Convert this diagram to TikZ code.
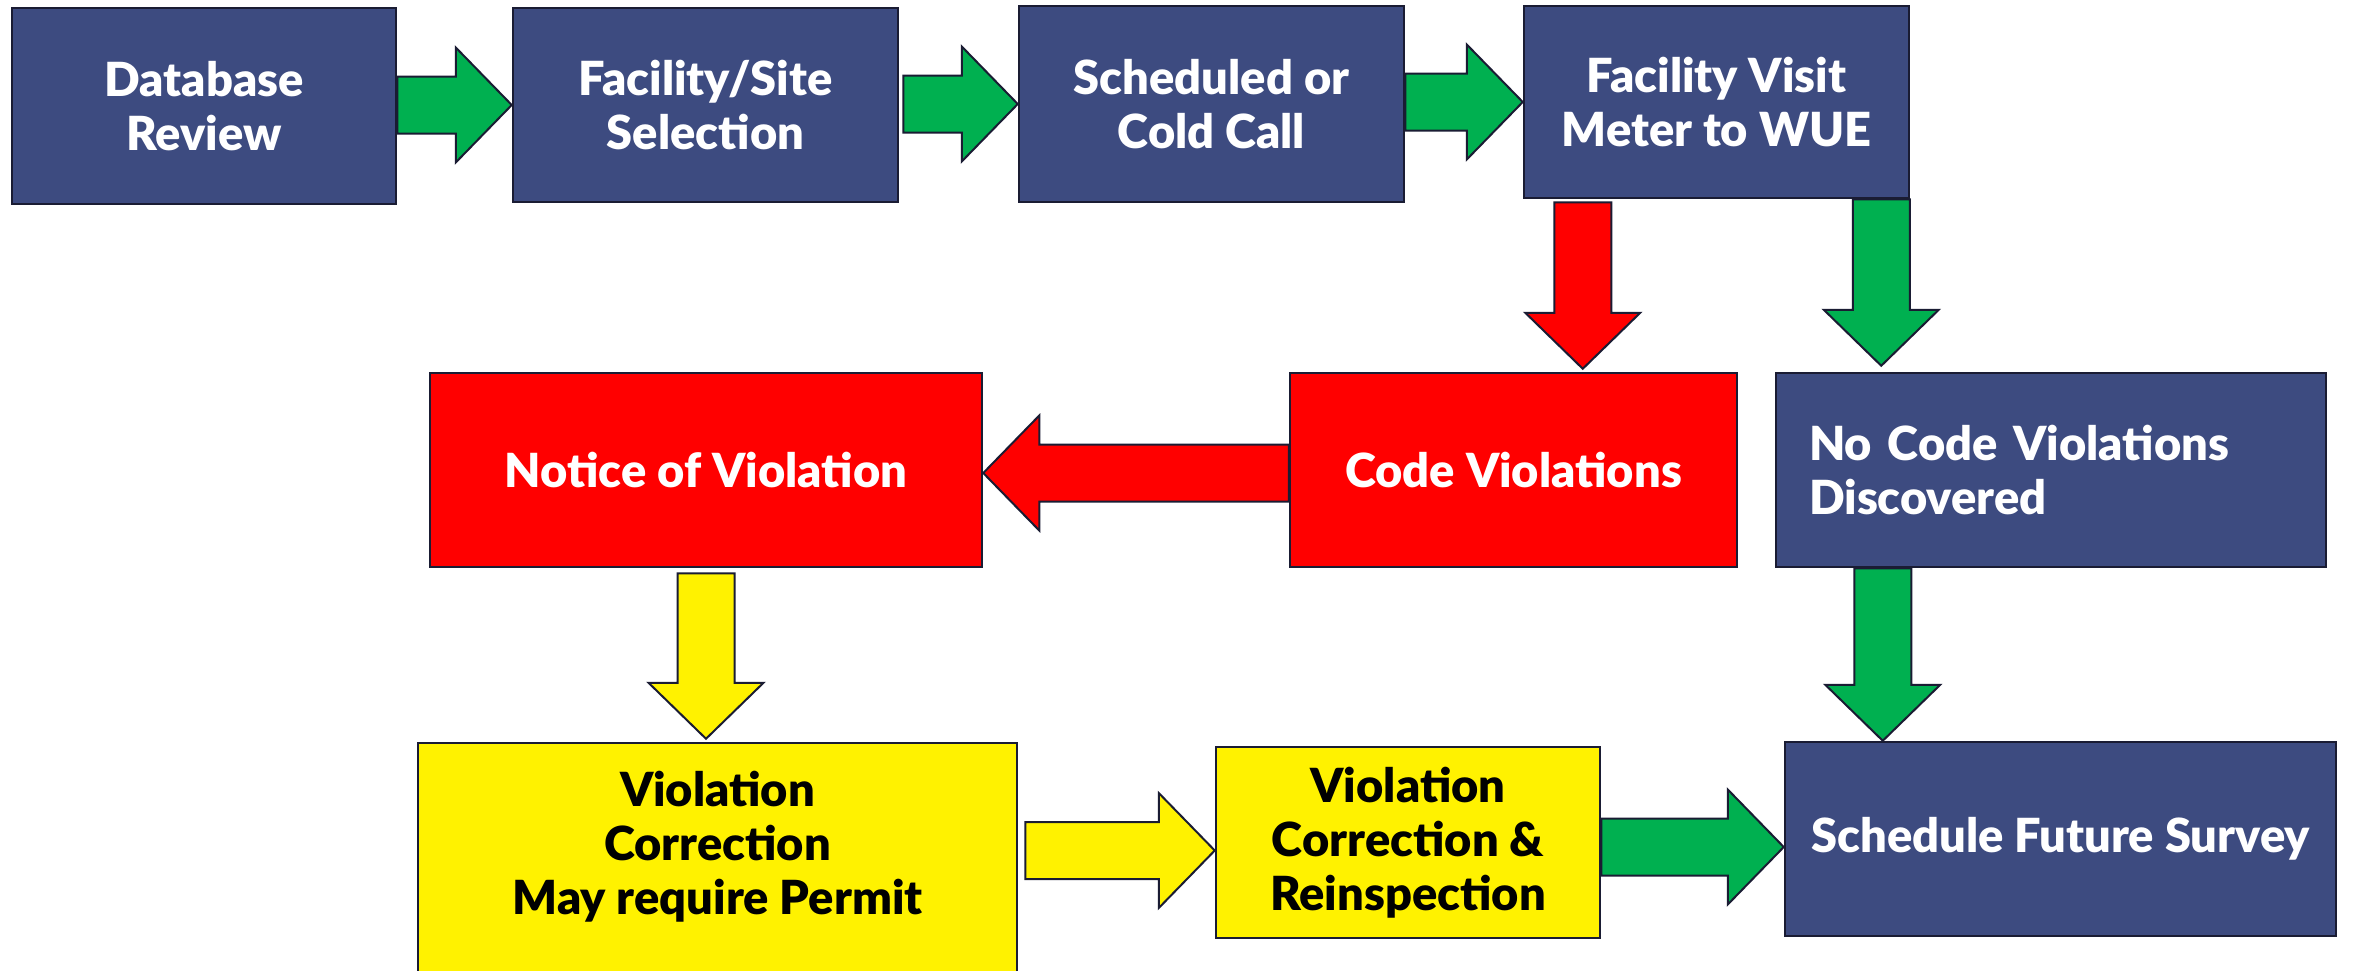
\documentclass[tikz,border=0pt]{standalone}
\usepackage{fontspec}
\setmainfont{Lato}[BoldFont={Lato Black}]
\usetikzlibrary{calc}
\definecolor{navy}{HTML}{3D4B80}
\definecolor{grn}{HTML}{00B050}
\definecolor{edgec}{HTML}{1A1C33}
\tikzset{
  box/.style={draw=edgec, line width=2.5pt, rectangle, inner sep=0pt, align=center,
    font=\fontsize{47}{54}\selectfont\bfseries},
  navybox/.style={box, fill=navy, text=white},
  redbox/.style={box, fill=red, text=white},
  yelbox/.style={box, fill=yellow, text=black},
  blk/.style={draw=edgec, line width=2pt, line join=miter},
}
% right-pointing block arrow: colour, start point, tip point
\newcommand\arR[3]{%
  \filldraw[blk,fill=#1] let \p1=#2, \p2=#3 in
   (\x1,\y2+28.5pt) -- (\x2-56pt,\y2+28.5pt) -- (\x2-56pt,\y2+57.5pt) -- (\x2,\y2)
   -- (\x2-56pt,\y2-57.5pt) -- (\x2-56pt,\y2-28.5pt) -- (\x1,\y2-28.5pt) -- cycle;}
% left-pointing block arrow
\newcommand\arL[3]{%
  \filldraw[blk,fill=#1] let \p1=#2, \p2=#3 in
   (\x1,\y2+28.5pt) -- (\x2+56pt,\y2+28.5pt) -- (\x2+56pt,\y2+57.5pt) -- (\x2,\y2)
   -- (\x2+56pt,\y2-57.5pt) -- (\x2+56pt,\y2-28.5pt) -- (\x1,\y2-28.5pt) -- cycle;}
% down-pointing block arrow
\newcommand\arD[3]{%
  \filldraw[blk,fill=#1] let \p1=#2, \p2=#3 in
   (\x1-28.5pt,\y1) -- (\x1-28.5pt,\y2+56pt) -- (\x1-57.5pt,\y2+56pt) -- (\x1,\y2)
   -- (\x1+57.5pt,\y2+56pt) -- (\x1+28.5pt,\y2+56pt) -- (\x1+28.5pt,\y1) -- cycle;}
\begin{document}
\begin{tikzpicture}[x=1pt,y=-1pt]
\useasboundingbox (0,0) rectangle (2358,970);
\fill[white] (0,0) rectangle (2358,970);

\node[navybox, minimum width=384pt, minimum height=196pt] (db) at (204,106) {Database\\Review};
\node[navybox, minimum width=385pt, minimum height=194pt] (fs) at (705.5,105) {Facility/Site\\Selection};
\node[navybox, minimum width=385pt, minimum height=196pt] (sc) at (1211.5,104) {Scheduled or\\Cold Call};
\node[navybox, minimum width=385pt, minimum height=192pt] (fv) at (1716.5,102) {Facility Visit\\Meter to WUE};

\node[redbox, minimum width=552pt, minimum height=194pt] (nv) at (706,470) {Notice of Violation};
\node[redbox, minimum width=447pt, minimum height=194pt] (cv) at (1513.5,470) {Code Violations};
\node[navybox, minimum width=550pt, minimum height=194pt, text width=484pt, inner xsep=33pt, align=left] (nc) at (2051,470) {No Code Violations\\Discovered};

\node[yelbox, minimum width=599pt, minimum height=242pt] (vc) at (717.5,864)
  {\begin{tabular}{@{}c@{}}Violation\\Correction\\May require Permit\\[28pt]\end{tabular}};
\node[yelbox, minimum width=384pt, minimum height=191pt] (vr) at (1408,842.5) {Violation\\Correction \&\\Reinspection};
\node[navybox, minimum width=551pt, minimum height=194pt] (sf) at (2060.5,839) {Schedule Future Survey};

\arR{grn}{(db.east)}{(fs.west)}
\arR{grn}{([xshift=4pt]fs.east)}{(sc.west)}
\arR{grn}{(sc.east)}{(fv.west)}
\arD{red}{([xshift=60pt,yshift=-3pt]fv.south west)}{([yshift=3pt]cv.north)}
\arD{grn}{([xshift=-29pt]fv.south east)}{([yshift=6pt]nc.north)}
\arL{red}{(cv.west)}{([yshift=-3pt]nv.east)}
\arD{yellow}{([yshift=-5pt]nv.south)}{([yshift=3pt]vc.north)}
\arD{grn}{([xshift=108pt]nc.south west)}{(sf.north)}
\arR{yellow}{([xshift=7pt]vc.east)}{([yshift=-8pt]vr.west)}
\arR{grn}{(vr.east)}{([yshift=-8pt]sf.west)}
\end{tikzpicture}
\end{document}
